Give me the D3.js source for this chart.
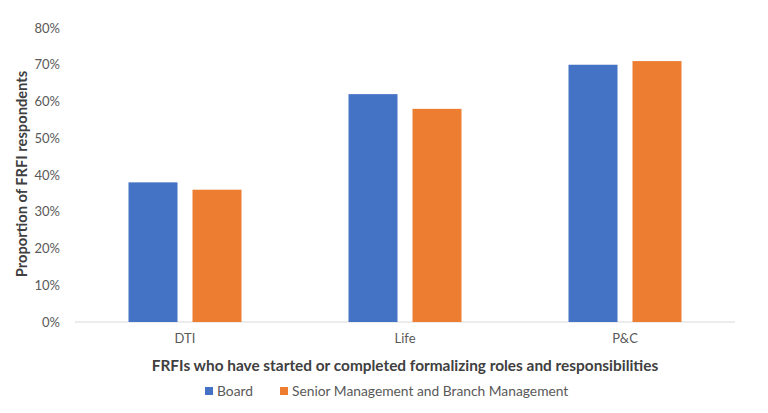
<!DOCTYPE html>
<html><head><meta charset="utf-8">
<script src="https://cdn.jsdelivr.net/npm/d3@7"></script>
<style>body{margin:0;background:#fff;}svg{display:block;font-family:Lato,"Open Sans",sans-serif;}</style>
</head><body>
<svg id="c" width="768" height="413"></svg>
<script>
const categories = ["DTI", "Life", "P&C"];
const seriesNames = ["Board", "Senior Management and Branch Management"];
const board = [38, 62, 70];
const senior = [36, 58, 71];
const yTicks = [0, 10, 20, 30, 40, 50, 60, 70, 80];
const colors = ["#4472C4", "#ED7D31"];

(function () {
const svg = d3.select("#c");
const pLeft = 75, pRight = 735, pTop = 28, pBottom = 322;
const x = d3.scaleBand().domain(categories).range([pLeft, pRight]).paddingInner(0).paddingOuter(0);
const y = d3.scaleLinear().domain([0, 80]).range([pBottom, pTop]);
const barW = 49, gap = 15;
const series = [board, senior];

// axis line
svg.append("line").attr("x1", pLeft).attr("x2", pRight).attr("y1", y(0)).attr("y2", y(0))
  .attr("stroke", "#D9D9D9").attr("stroke-width", 1);

// y axis labels
const yAxis = d3.axisLeft(y).tickValues(yTicks).tickFormat(d => d + "%").tickSize(0).tickPadding(0);
const ya = svg.append("g").attr("transform", "translate(60,0)").call(yAxis);
ya.select(".domain").remove();
ya.selectAll("text").attr("fill", "#595959").style("font-size", "13px").style("font-family", "Lato,'Open Sans',sans-serif");

// bars
series.forEach((vals, si) => {
  svg.append("g").selectAll("rect").data(vals).join("rect")
    .attr("x", (d, i) => x(categories[i]) + x.bandwidth() / 2 - (barW * 2 + gap) / 2 + si * (barW + gap))
    .attr("y", d => y(d))
    .attr("width", barW)
    .attr("height", d => y(0) - y(d))
    .attr("fill", colors[si]);
});

// x axis labels
const xAxis = d3.axisBottom(x).tickSize(0).tickPadding(0);
const xa = svg.append("g").attr("transform", `translate(0,${pBottom + 12})`).call(xAxis);
xa.select(".domain").remove();
xa.selectAll("text").attr("fill", "#595959").style("font-size", "13px").style("font-family", "Lato,'Open Sans',sans-serif");

// x title
svg.append("text").attr("x", 405).attr("y", 371).attr("text-anchor", "middle")
  .attr("fill", "#404040").style("font-size", "15.4px").style("font-weight", "bold")
  .text("FRFIs who have started or completed formalizing roles and responsibilities");

// y title
svg.append("text").attr("transform", `translate(27,174) rotate(-90)`)
  .attr("text-anchor", "middle").attr("fill", "#404040").style("font-size", "14.7px").style("font-weight", "bold")
  .text("Proportion of FRFI respondents");

// legend
const legX = [205, 280];
seriesNames.forEach((n, i) => {
  svg.append("rect").attr("x", legX[i]).attr("y", 387).attr("width", 8).attr("height", 8).attr("fill", colors[i]);
  svg.append("text").attr("x", legX[i] + 12).attr("y", 396).attr("fill", "#595959")
    .style("font-size", "13.8px").text(n);
});
})();
</script>
</body></html>
